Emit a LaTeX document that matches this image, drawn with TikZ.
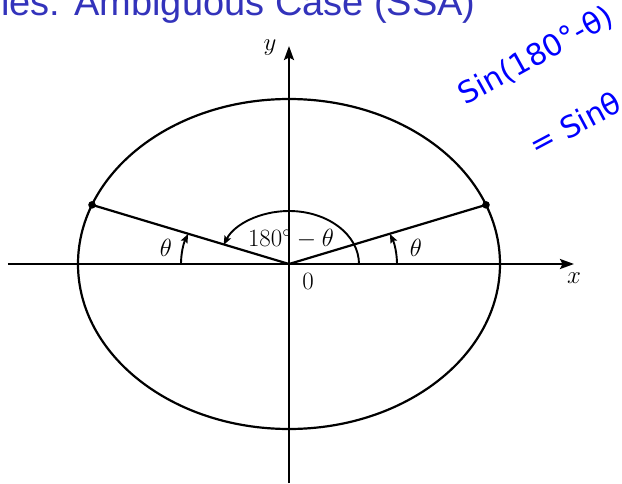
\documentclass[tikz,border=0pt]{standalone}
\usepackage{fontspec}
\usepackage{amsmath}
\usetikzlibrary{arrows.meta}
\newfontfamily\titlefont{Liberation Sans}
\newfontfamily\handfont{DejaVu Sans}
\definecolor{titleblue}{RGB}{51,51,187}

\begin{document}
\begin{tikzpicture}[x=1pt, y=1pt,
    ax/.style={line width=2.2pt, -{Stealth[length=14pt, width=10pt, inset=2.5pt]}},
    ray/.style={line width=2.2pt},
    ang/.style={line width=1.9pt, -{Stealth[length=9pt, width=7pt, inset=1.5pt]}},
    lbl/.style={font=\fontsize{24}{24}\selectfont, inner sep=0pt},
    hand/.style={font=\handfont\fontsize{30}{30}\selectfont, text=blue, inner sep=0pt}
]
\useasboundingbox (-289,-219) rectangle (333,264);
\coordinate (O) at (0,0);
\coordinate (xl) at (-281,0);
\coordinate (xr) at (285,0);
\coordinate (yb) at (0,-219);
\coordinate (yt) at (0,218);
\coordinate (P) at (21:211pt and 165pt);
\coordinate (Q) at (159:211pt and 165pt);

\node[anchor=base west, inner sep=0pt, font=\titlefont\fontsize{38}{38}\selectfont, text=titleblue] (title) at (-288,249) {les: Ambiguous Case (SSA)};

\draw[line width=2.2pt] (O) ellipse [x radius=211pt, y radius=165pt];
\draw[ax] (xl) -- (xr);
\draw[ax] (yb) -- (yt);
\draw[ray] (O) -- (P);
\draw[ray] (O) -- (Q);
\fill (P) circle (3.8pt);
\fill (Q) circle (3.8pt);

\draw[ang] (70,0) arc[start angle=0, end angle=159, x radius=70pt, y radius=53pt];
\draw[ang] (108,0) arc[start angle=0, end angle=21, x radius=108pt, y radius=84pt];
\draw[ang] (-108,0) arc[start angle=180, end angle=159, x radius=108pt, y radius=84pt];

\node[lbl] (thr) at (127,16) {$\theta$};
\node[lbl] (thl) at (-123,16) {$\theta$};
\node[lbl] (big) at (2,25) {$180^\circ-\theta$};
\node[lbl] (zero) at (19,-17) {$0$};
\node[lbl] (xlab) at (285,-14) {$x$};
\node[lbl] (ylab) at (-19,216) {$y$};

\node[hand, rotate=29] (eq1) at (247,208) {Sin(180°-θ)};
\node[hand, rotate=28] (eq2) at (286,141) {= Sinθ};
\end{tikzpicture}
\end{document}
